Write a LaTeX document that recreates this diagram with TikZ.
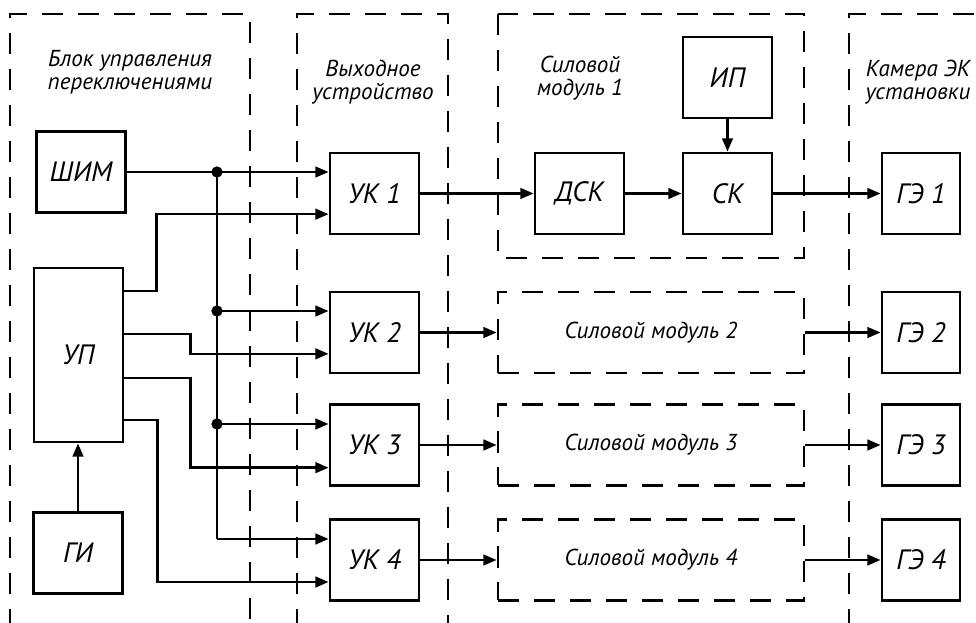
\documentclass[tikz,border=0pt]{standalone}
\usepackage{fontspec}
\setmainfont{PT Sans}
\usetikzlibrary{arrows.meta}

\begin{document}
\begin{tikzpicture}[x=0.75pt,y=-0.75pt,
  box/.style={draw,line width=2.1pt,minimum width=66.75pt,minimum height=60.75pt,inner sep=0pt,font=\itshape\fontsize{21}{23}\selectfont},
  frame/.style={line width=2pt,dash pattern=on 16pt off 11pt},
  module/.style={box,frame,minimum width=229.5pt,font=\itshape\fontsize{17.3}{19}\selectfont},
  link/.style={line width=1.9pt},
  wire/.style={link,-{Triangle[length=10pt,width=8pt]}},
  title/.style={align=center,font=\itshape\fontsize{17.3}{17.5}\selectfont},
  junction/.style={circle,fill,inner sep=0pt,minimum size=8.5pt}]
\useasboundingbox (0,0) rectangle (976,623);

\draw[frame] (10,630) -- (10,14) -- (250,14) -- (250,630);
\draw[frame] (297,630) -- (297,14) -- (448,14) -- (448,630);
\draw[frame] (498,14) rectangle (804,258);
\draw[frame] (849,630) -- (849,14) -- (990,14);

\node[title] (tbu) at (130,72) {Блок управления\\переключениями};
\node[title] (tvu) at (373,82) {Выходное\\устройство};
\node[title] (tsm) at (580,78) {Силовой\\модуль 1};
\node[title] (tke) at (918,82) {Камера ЭК\\установки};

\node[box] (shim) at (81,172) {ШИМ};
\node[box,minimum height=130.5pt] (up) at (78.5,355) {УП};
\node[box] (gi) at (78,553) {ГИ};
\node[box] (uk1) at (374.5,193.5) {УК 1};
\node[box] (uk2) at (374.5,332.5) {УК 2};
\node[box] (uk3) at (374.5,445) {УК 3};
\node[box] (uk4) at (374.5,560) {УК 4};
\node[box] (dsk) at (579.5,193.5) {ДСК};
\node[box] (sk) at (727.5,193.5) {СК};
\node[box] (ip) at (727.5,77.5) {ИП};
\node[module] (sm2) at (651,332.5) {Силовой модуль 2};
\node[module] (sm3) at (651,445) {Силовой модуль 3};
\node[module] (sm4) at (651,560) {Силовой модуль 4};
\node[box,minimum width=58.5pt] (ge1) at (921,193.5) {ГЭ 1};
\node[box,minimum width=58.5pt] (ge2) at (921,332.5) {ГЭ 2};
\node[box,minimum width=58.5pt] (ge3) at (921,445) {ГЭ 3};
\node[box,minimum width=58.5pt] (ge4) at (921,560) {ГЭ 4};

\coordinate (j1) at (217,172);
\coordinate (j2) at (217,311);
\coordinate (j3) at (217,424);
\coordinate (j4) at (217,539);
\draw[wire] (shim.east) -- (shim.east -| uk1.west);
\draw[link] (j1) -- (j4);
\draw[wire] (j2) -- (j2 -| uk2.west);
\draw[wire] (j3) -- (j3 -| uk3.west);
\draw[wire] (j4) -- (j4 -| uk4.west);
\foreach \j in {j1,j2,j3}
  \node[junction] (d\j) at (\j) {};

\draw[wire] ([yshift=48pt]up.east) -- ++(32,0) |- ([yshift=-15.5pt]uk1.west);
\draw[wire] ([yshift=15.75pt]up.east) -- ++(66,0) |- ([yshift=-16pt]uk2.west);
\draw[wire] ([yshift=-17.25pt]up.east) -- ++(66,0) |- ([yshift=-17pt]uk3.west);
\draw[wire] ([yshift=-48.75pt]up.east) -- ++(33,0) |- ([yshift=-16.5pt]uk4.west);
\draw[wire] (gi.north) -- (gi.north |- up.south);

\draw[wire] (uk1) -- (dsk);
\draw[wire] (dsk) -- (sk);
\draw[wire] (ip) -- (sk);
\draw[wire] (sk) -- (ge1);
\foreach \k in {2,3,4}{
  \draw[wire] (uk\k) -- (sm\k);
  \draw[wire] (sm\k) -- (ge\k);
}
\end{tikzpicture}
\end{document}
